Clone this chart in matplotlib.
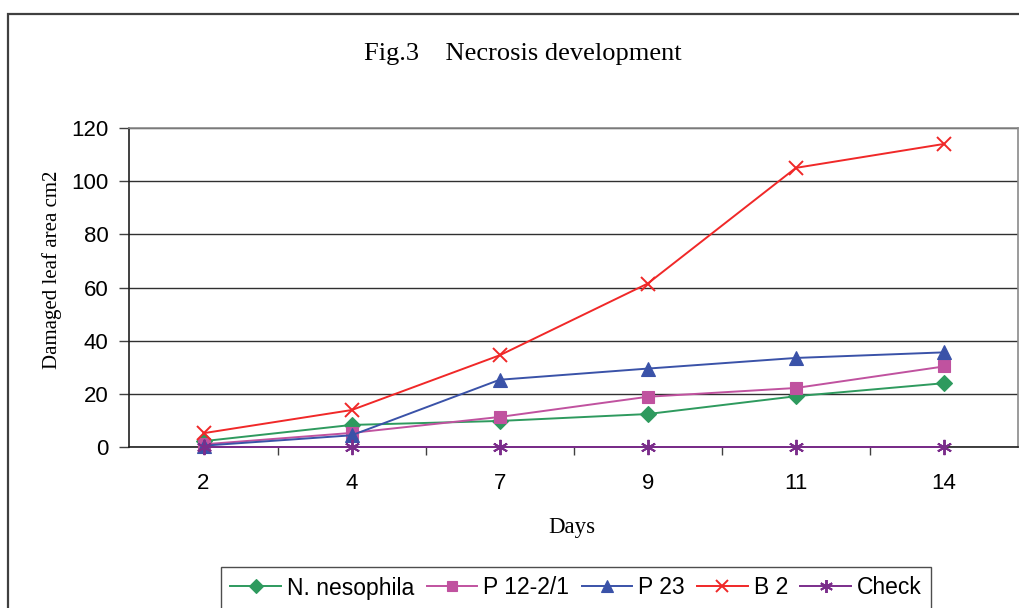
import matplotlib
matplotlib.use("Agg")
import matplotlib.pyplot as plt
from matplotlib.patches import Rectangle

days = ["2", "4", "7", "9", "11", "14"]
n_nesophila = [2.2, 8.3, 9.8, 12.4, 19.1, 24.0]
p_12_2_1 = [1.0, 5.3, 11.3, 18.9, 22.2, 30.3]
p_23 = [0.5, 4.4, 25.3, 29.5, 33.5, 35.6]
b_2 = [5.2, 13.9, 34.5, 61.5, 105.0, 114.0]
check = [0, 0, 0, 0, 0, 0]

series = [
    ("N. nesophila", n_nesophila, "#2E9A5E", "D", 8),
    ("P 12-2/1", p_12_2_1, "#C0529F", "s", 8),
    ("P 23", p_23, "#3A52A8", "^", 10),
    ("B 2", b_2, "#F02828", "x", 10),
    ("Check", check, "#7B2D8B", (6, 2, 0), 11),
]

fig = plt.figure(figsize=(10.2, 6.08), dpi=100)
W, H = 1020, 608
# outer chart border
fig.patches.append(Rectangle((8 / W, -0.1), 1.2, (H - 14) / H + 0.1,
                             transform=fig.transFigure, fill=False,
                             edgecolor="#404040", linewidth=1.6))

ax = fig.add_axes([129.5 / W, 1 - 447 / H, (1018 - 129.5) / W, (447 - 128) / H])
x = list(range(len(days)))
for name, vals, col, mk, ms in series:
    ax.plot(x, vals, color=col, marker=mk, markersize=ms, linewidth=1.4,
            markeredgewidth=1.4 if mk in ("x", (6, 2, 0)) else 0.8,
            markeredgecolor=col, markerfacecolor=col, label=name,
            clip_on=False, zorder=3)

ax.set_xlim(-0.5, len(days) - 0.5)
ax.set_ylim(0, 120)
ax.set_yticks(range(0, 121, 20))
ax.set_xticks(x)
ax.set_xticklabels(days)
ax.set_xticks([i + 0.5 for i in range(len(days) - 1)], minor=True)
ax.tick_params(axis="x", which="major", length=0, pad=19, labelsize=16)
ax.tick_params(axis="x", which="minor", length=6, width=1, direction="out", color="#404040")
ax.tick_params(axis="y", length=7, width=1, direction="out", labelsize=16, pad=8, color="#404040")
for lbl in ax.get_xticklabels() + ax.get_yticklabels():
    lbl.set_fontfamily("Liberation Sans")

ax.grid(axis="y", color="#303030", linewidth=1.0, zorder=0)
ax.set_axisbelow(True)
ax.spines["left"].set_color("#202020")
ax.spines["bottom"].set_color("#202020")
ax.spines["top"].set_color("#8A8A8A")
ax.spines["right"].set_color("#8A8A8A")
for s in ax.spines.values():
    s.set_linewidth(1.2)

fig.text(522.5 / W, 1 - 54 / H, "Fig.3    Necrosis development", ha="center", va="center",
         fontsize=19, fontfamily="Liberation Serif")
fig.text(572 / W, 1 - 533 / H, "Days", ha="center", va="baseline",
         fontsize=16.5, fontfamily="Liberation Serif")
fig.text(52 / W, 1 - 270 / H, "Damaged leaf area cm2", ha="center", va="center",
         rotation=90, fontsize=15, fontfamily="Liberation Serif")

leg = fig.legend(loc="center", bbox_to_anchor=(576 / W, 1 - 588 / H), ncol=5,
                 frameon=True, fancybox=False, edgecolor="#202020",
                 prop={"family": "Liberation Sans", "size": 16.5},
                 handlelength=2.2, handletextpad=0.26, columnspacing=0.55,
                 borderpad=0.4, markerscale=0.85)
leg.get_frame().set_linewidth(1.0)

fig.savefig("out.png", dpi=100)
